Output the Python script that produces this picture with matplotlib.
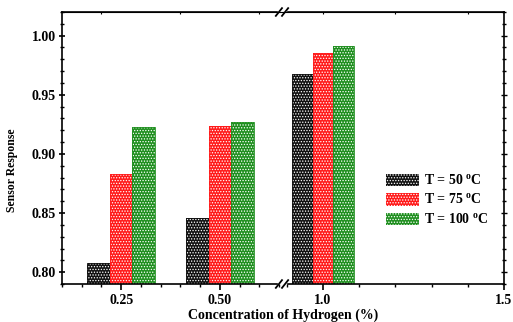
#!/usr/bin/env python3
'''
Sensor response vs hydrogen concentration, broken x axis
'''
import matplotlib
matplotlib.use('Agg')
import matplotlib.pyplot as plt
from matplotlib.ticker import MultipleLocator
import numpy as np

concentrations = [0.25, 0.50, 1.0]
labels = ['T = 50 $^{\\mathbf{o}}$C', 'T = 75 $^{\\mathbf{o}}$C', 'T = 100 $^{\\mathbf{o}}$C']
resp_50 = [0.808, 0.846, 0.968]
resp_75 = [0.883, 0.924, 0.985]
resp_100 = [0.923, 0.927, 0.991]
colors = ['#111111', '#ff1a1a', '#1f8f1f']

BAR_W = 0.057
FONT = 'Liberation Serif'

plt.rcParams['font.family'] = FONT
plt.rcParams['font.weight'] = 'bold'
plt.rcParams['mathtext.fontset'] = 'custom'
plt.rcParams['mathtext.rm'] = FONT + ':bold'
plt.rcParams['mathtext.bf'] = FONT + ':bold'
plt.rcParams['hatch.linewidth'] = 0.6


def draw_bars(ax):
    ''' Draw the three series as hatched bars '''
    x = np.array(concentrations)
    for i, vals in enumerate([resp_50, resp_75, resp_100]):
        pos = x + (i - 1) * BAR_W
        ax.bar(pos, vals, BAR_W, color=colors[i], edgecolor='white',
               hatch='......', linewidth=0, label=labels[i])
        ax.bar(pos, vals, BAR_W, fill=False, edgecolor=colors[i], linewidth=0.6)


fig = plt.figure(figsize=(5.13, 3.22), dpi=100)
left, bottom, w, h = 0.1209, 0.118, 0.4308, 0.8447
ax1 = fig.add_axes([left, bottom, w, h])
ax2 = fig.add_axes([left + w, bottom, w, h], sharey=ax1)

for ax in (ax1, ax2):
    draw_bars(ax)
    ax.set_ylim(0.79, 1.02)
    for s in ax.spines.values():
        s.set_linewidth(1.2)

ax1.set_xlim(0.1, 0.66)
ax2.set_xlim(0.89, 1.5)

# spines with gaps around the break
ax1.spines['right'].set_visible(False)
ax2.spines['left'].set_visible(False)
ax1.spines['top'].set_bounds(0.1, 0.645)
ax1.spines['bottom'].set_bounds(0.1, 0.645)
ax2.spines['top'].set_bounds(0.905, 1.5)
ax2.spines['bottom'].set_bounds(0.905, 1.5)

# ticks
ax1.xaxis.set_minor_locator(MultipleLocator(0.05))
ax2.xaxis.set_minor_locator(MultipleLocator(0.1))
ax1.yaxis.set_minor_locator(MultipleLocator(0.01))
ax1.set_xticks([0.25, 0.50])
ax1.set_xticklabels(['0.25', '0.50'])
ax2.set_xticks([1.0, 1.5])
ax2.set_xticklabels(['1.0', '1.5'])
ax1.set_yticks([0.80, 0.85, 0.90, 0.95, 1.00])
ax1.set_yticklabels(['0.80', '0.85', '0.90', '0.95', '1.00'])

for ax in (ax1, ax2):
    ax.tick_params(axis='x', which='major', direction='out', length=4,
                   width=1.2, labelsize=10, pad=3)
    ax.tick_params(axis='x', which='minor', direction='out', length=2.5,
                   width=1.0)
    ax.secondary_xaxis('top').tick_params(axis='x', which='both',
                                         direction='in', length=1.5,
                                         width=0.8, labeltop=False)
ax1.tick_params(axis='y', which='major', direction='inout', length=5,
                width=1.2, labelsize=10, pad=2)
ax1.tick_params(axis='y', which='minor', direction='inout', length=3, width=1.0)
ax2.tick_params(axis='y', which='both', left=False, labelleft=False,
                right=True, direction='inout', width=1.0)
ax2.tick_params(axis='y', which='major', length=5)
ax2.tick_params(axis='y', which='minor', length=3)

# break marks
bx = left + w
for yb in (bottom, bottom + h):
    for dx in (-0.008, 0.004):
        fig.add_artist(plt.Line2D([bx + dx - 0.006, bx + dx + 0.006],
                                  [yb - 0.012, yb + 0.012],
                                  color='black', lw=1.3))

fig.text(0.023, 0.472, 'Sensor Response', rotation=90, ha='center',
         va='center', fontsize=8.5, fontweight='bold')
fig.text(bx, 0.021, 'Concentration of Hydrogen (%)', ha='center',
         va='center', fontsize=10, fontweight='bold')

handles, lbls = ax2.get_legend_handles_labels()
fig.legend(handles, lbls, loc='center left', bbox_to_anchor=(0.739, 0.379),
           frameon=False, fontsize=10, handlelength=2.4, handleheight=1.0,
           labelspacing=0.35, handletextpad=0.3, borderpad=0)

fig.savefig('out.png', dpi=100)
